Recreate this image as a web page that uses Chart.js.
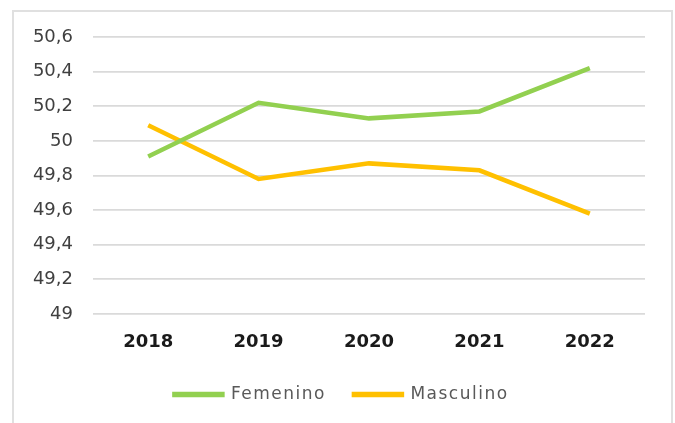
<!DOCTYPE html>
<html>
<head>
<meta charset="utf-8">
<script src="https://cdn.jsdelivr.net/npm/chart.js@4.4.1/dist/chart.umd.min.js"></script>
<style>
  html, body { margin: 0; padding: 0; background: #fff; }
  #frame { position: absolute; left: 12px; top: 10px; width: 657px; height: 440px; border: 2px solid #e0e0e0; }
  #wrap { position: absolute; left: 0; top: 0; width: 675px; height: 423px; }
</style>
</head>
<body>
<div id="frame"></div>
<div id="wrap"><canvas id="lineChart"></canvas></div>
<script>
const years = ['2018', '2019', '2020', '2021', '2022'];
const femenino = [49.91, 50.22, 50.13, 50.17, 50.42];
const masculino = [50.09, 49.78, 49.87, 49.83, 49.58];
const yMin = 49, yMax = 50.6, yStep = 0.2;

const ctx = document.getElementById('lineChart').getContext('2d');
const chart = new Chart(ctx, {
  type: 'line',
  data: {
    labels: years,
    datasets: [{
      label: 'Femenino',
      data: femenino,
      borderColor: '#92d050',
      backgroundColor: '#92d050',
      borderWidth: 4.5,
      pointRadius: 0,
      tension: 0
    }, {
      label: 'Masculino',
      data: masculino,
      borderColor: '#ffc000',
      backgroundColor: '#ffc000',
      borderWidth: 4.5,
      pointRadius: 0,
      tension: 0
    }]
  },
  options: {
    responsive: true,
    maintainAspectRatio: false,
    animation: false,
    layout: { padding: { left: 20, right: 30, top: 37, bottom: 10 } },
    plugins: {
      tooltip: { enabled: false },
      legend: {
        position: 'bottom',
        labels: {
          boxWidth: 48,
          boxHeight: 1,
          padding: 28,
          color: '#595959',
          font: { family: 'DejaVu Sans', size: 17 }
        }
      }
    },
    scales: {
      x: {
        offset: true,
        grid: { display: false },
        border: { display: false },
        ticks: {
          padding: 10,
          color: '#1a1a1a',
          font: { family: 'DejaVu Sans', size: 18, weight: 'bold' }
        },
        afterFit: s => { s.height = 44; }
      },
      y: {
        min: yMin,
        max: yMax,
        border: { display: false },
        grid: { color: '#dadada', lineWidth: 1.8, drawTicks: false },
        ticks: {
          stepSize: yStep,
          padding: 20,
          color: '#404040',
          font: { family: 'DejaVu Sans', size: 18 },
          callback: v => String(Number(v.toFixed(1))).replace('.', ',')
        },
        afterFit: s => { s.width = 73; }
      }
    }
  }
});

// wider spacing in legend text, and nudge it right like the original
const legend = chart.legend;
const fit0 = legend.fit, draw0 = legend.draw;
legend.fit = function () { this.ctx.letterSpacing = '1.5px'; fit0.call(this); this.ctx.letterSpacing = '0px'; };
legend.draw = function () {
  this.ctx.save();
  this.ctx.translate(9, 0);
  this.ctx.letterSpacing = '1.5px';
  draw0.apply(this, arguments);
  this.ctx.restore();
};
chart.update();
</script>
</body>
</html>
